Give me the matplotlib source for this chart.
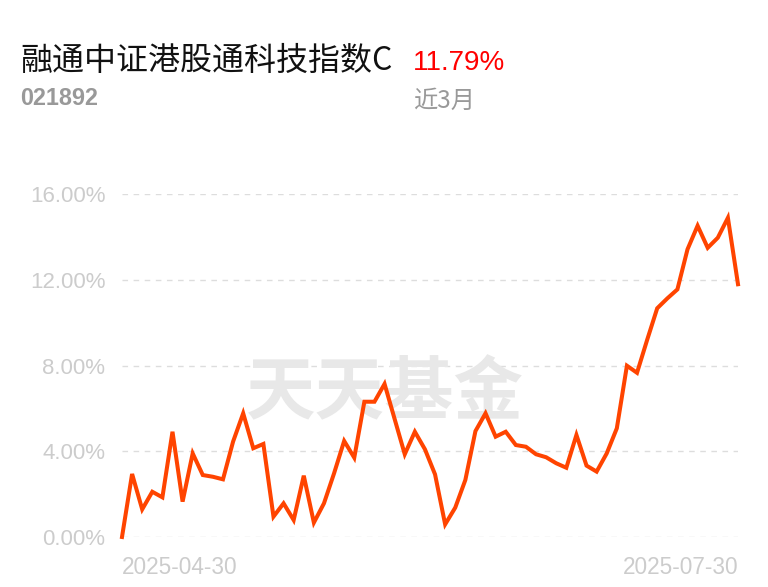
import matplotlib
matplotlib.use('Agg')
import matplotlib.pyplot as plt

# Fund info
fund_name = '融通中证港股通科技指数C'
fund_code = '021892'
period_return = '11.79%'
period_label = '近3月'
watermark = '天天基金'

# Cumulative return (%) per trading day
returns = [0.00, 2.94, 1.29, 2.11, 1.85, 4.91, 1.65, 3.90, 2.89, 2.81,
           2.69, 4.45, 5.77, 4.14, 4.34, 0.95, 1.57, 0.79, 2.86, 0.67,
           1.57, 2.97, 4.48, 3.70, 6.31, 6.31, 7.14, 5.50, 3.86, 4.91,
           4.09, 2.92, 0.59, 1.37, 2.66, 4.94, 5.77, 4.68, 4.91, 4.29,
           4.21, 3.86, 3.72, 3.44, 3.23, 4.76, 3.33, 3.05, 3.90, 5.07,
           7.99, 7.66, 9.19, 10.67, 11.13, 11.55, 13.42, 14.52, 13.49, 13.96,
           14.89, 11.79]
date_labels = ['2025-04-30', '2025-07-30']
y_ticks = [0, 4, 8, 12, 16]

W, H = 768, 587
fig = plt.figure(figsize=(W / 100, H / 100), dpi=100)
fig.patch.set_facecolor('white')

ax = fig.add_axes([122 / W, 1 - 537 / H, (738 - 122) / W, (537 - 194) / H])
x = list(range(len(returns)))
ax.plot(x, returns, color='#ff4400', lw=2.9, solid_joinstyle='miter',
        clip_on=False, zorder=3)

ax.set_xlim(0, len(returns) - 1)
ax.set_ylim(0, 16)
ax.set_axisbelow(True)
for t in y_ticks:
    ax.axhline(t, color='#dddddd', lw=1.0, ls=(0, (4, 4)), zorder=0)

ax.set_yticks(y_ticks)
ax.set_yticklabels([f'{t:.2f}%' for t in y_ticks], fontsize=16,
                   color='#cccccc', family='Liberation Sans')
ax.set_xticks([0, len(returns) - 1])
ax.set_xticklabels(date_labels, fontsize=16.3, color='#cccccc',
                   family='Liberation Sans')
xl = ax.get_xticklabels()
xl[0].set_ha('left')
xl[1].set_ha('right')
ax.tick_params(length=0)
ax.tick_params(axis='y', pad=12)
ax.tick_params(axis='x', pad=14)
for s in ax.spines.values():
    s.set_visible(False)

# watermark
ax.text(385 / W, 1 - 394 / H, watermark, transform=fig.transFigure,
        ha='center', va='center', fontsize=50, fontweight='bold',
        color='#e8e8e8', family='Noto Sans CJK SC', zorder=1)

# header
fig.text(20 / W, 1 - 70 / H, fund_name, fontsize=23, color='#111111',
         family='Noto Sans CJK SC', va='baseline')
fig.text(413 / W, 1 - 70 / H, period_return, fontsize=20, color='#ff0000',
         family='Liberation Sans', va='baseline')
fig.text(20 / W, 1 - 105 / H, fund_code, fontsize=16.8, color='#999999',
         family='Liberation Sans', fontweight='bold', va='baseline')
fig.text(413 / W, 1 - 108 / H, period_label, fontsize=17.5, color='#999999',
         family='Noto Sans CJK SC', va='baseline')

fig.savefig('out.png', dpi=100)
